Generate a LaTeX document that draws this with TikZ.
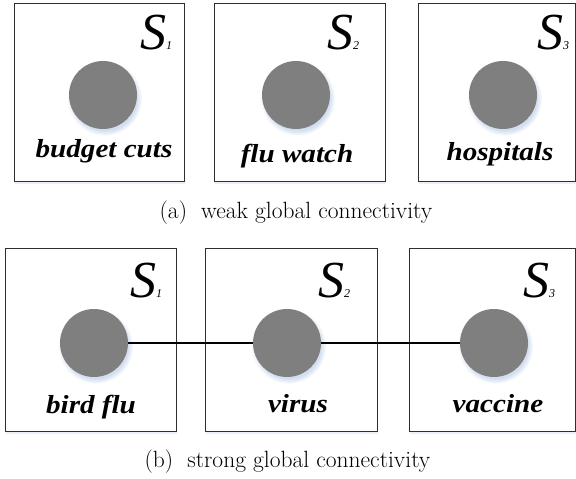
\documentclass[tikz,border=0pt]{standalone}
\usepackage{fontspec}
\usepackage{tikz}
\usetikzlibrary{shadows}
\newfontfamily\timesfont{Liberation Serif}
\newfontfamily\widefont{Liberation Serif}[FakeStretch=1.12]
\definecolor{dotGray}{HTML}{7F7F7F}
\definecolor{shadeBlue}{HTML}{D3DFF0}
\definecolor{frameGray}{HTML}{2E2E2E}
\newcommand\sidx[1]{{\fontsize{12}{12}\selectfont#1}}

\begin{document}
\begin{tikzpicture}[x=1pt,y=-1pt,
  frame/.style={draw=frameGray,line width=0.8pt,fill=white,inner sep=0pt,minimum width=171pt,minimum height=178pt,
    drop shadow={shadow xshift=1pt,shadow yshift=-3pt,fill=shadeBlue!45,opacity=1}},
  dot/.style={circle,fill=dotGray,minimum size=68pt,inner sep=0pt,
    circular drop shadow={shadow xshift=1.5pt,shadow yshift=-3pt,fill=shadeBlue,opacity=1}},
  topic/.style={anchor=base,inner sep=0pt,font=\widefont\bfseries\itshape\fontsize{26}{30}\selectfont},
  sname/.style={anchor=base west,inner sep=0pt,font=\timesfont\itshape\fontsize{52}{56}\selectfont},
  capt/.style={anchor=base,inner sep=0pt,font=\fontsize{23.5}{27}\selectfont},
  link/.style={line width=1.3pt}]
\useasboundingbox (0,0) rectangle (576,479);
% (a) weak
\node[frame,minimum width=170pt] (a1) at (99,92) {};
\node[frame] (a2) at (299.5,92) {};
\node[frame,minimum width=157pt] (a3) at (496.5,92) {};
\node[dot] (da1) at (103,95) {};
\node[dot] (da2) at (296,95) {};
\node[dot] (da3) at (503,95) {};
\node[sname] (sa1) at (140,49) {S\sidx{1}};
\node[sname] (sa2) at (327,49) {S\sidx{2}};
\node[sname] (sa3) at (537,49) {S\sidx{3}};
\node[topic] (ta1) at (104,157) {budget cuts};
\node[topic] (ta2) at (297,162) {flu watch};
\node[topic] (ta3) at (500,160) {hospitals};
\node[capt] (capa) at (296,218) {(a)\hspace{0.6em}weak global connectivity};
% (b) strong
\node[frame,minimum height=183pt] (b1) at (90.5,339.5) {};
\node[frame,minimum height=183pt,minimum width=172pt] (b2) at (291,339.5) {};
\node[frame,minimum height=183pt,minimum width=166pt] (b3) at (492,339.5) {};
\node[dot] (db1) at (94,343) {};
\node[dot] (db2) at (287,343) {};
\node[dot] (db3) at (494,343) {};
\draw[link] (db1) -- (db2);
\draw[link] (db2) -- (db3);
\node[sname] (sb1) at (130,297) {S\sidx{1}};
\node[sname] (sb2) at (318,297) {S\sidx{2}};
\node[sname] (sb3) at (523,297) {S\sidx{3}};
\node[topic] (tb1) at (91,413) {bird flu};
\node[topic] (tb2) at (298,412) {virus};
\node[topic] (tb3) at (498,412) {vaccine};
\node[capt] (capb) at (287.5,467) {(b)\hspace{0.6em}strong global connectivity};
\end{tikzpicture}
\end{document}
